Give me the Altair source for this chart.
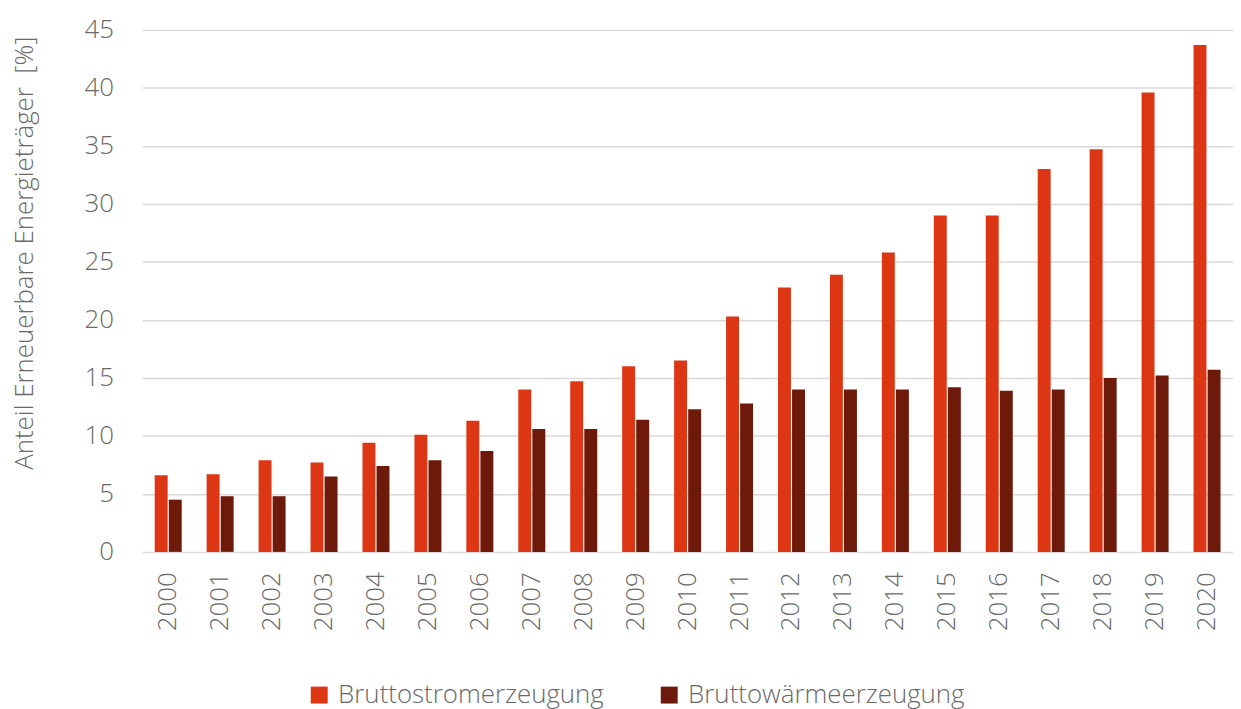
import altair as alt
import pandas as pd

years = [str(y) for y in range(2000, 2021)]
strom = [6.6, 6.7, 7.9, 7.7, 9.4, 10.1, 11.3, 14.0, 14.7, 16.0, 16.5, 20.3, 22.8, 23.9, 25.8, 29.0, 29.0, 33.0, 34.7, 39.6, 43.7]
waerme = [4.5, 4.8, 4.8, 6.5, 7.4, 7.9, 8.7, 10.6, 10.6, 11.4, 12.3, 12.8, 14.0, 14.0, 14.0, 14.2, 13.9, 14.0, 15.0, 15.2, 15.7]
series = ["Bruttostromerzeugung", "Bruttowärmeerzeugung"]
colors = ["#DC3614", "#6E1A0A"]

rows = []
for i, y in enumerate(years):
    rows.append({"Jahr": y, "Serie": series[0], "Wert": strom[i]})
    rows.append({"Jahr": y, "Serie": series[1], "Wert": waerme[i]})
df = pd.DataFrame(rows)

FONT = "Open Sans"
GRAY = "#6a6a6a"
FS = 26

chart = alt.Chart(df).mark_bar().encode(
    x=alt.X("Jahr:N", sort=years,
            scale=alt.Scale(paddingInner=0.48, paddingOuter=0.24),
            axis=alt.Axis(title=None, labelAngle=-90, labelFontSize=FS, labelColor=GRAY,
                          labelFont=FONT, labelFontWeight=300, ticks=False, domain=False,
                          labelPadding=20, labelBaseline="middle", labelAlign="right")),
    xOffset=alt.XOffset("Serie:N", sort=series, scale=alt.Scale(paddingInner=0.08)),
    y=alt.Y("Wert:Q", scale=alt.Scale(domain=[0, 45], nice=False),
            axis=alt.Axis(title="Anteil Erneuerbare Energieträger\u00a0\u00a0[%]", values=list(range(0, 50, 5)),
                          labelFontSize=FS, labelColor=GRAY, labelFont=FONT, labelFontWeight=300,
                          titleFontSize=FS, titleColor=GRAY, titleFont=FONT, titleFontWeight=300,
                          ticks=False, domain=False, labelPadding=29, titlePadding=47,
                          titleY=224,
                          gridColor="#d9d9d9", gridWidth=1.5)),
    color=alt.Color("Serie:N", sort=series, scale=alt.Scale(domain=series, range=colors),
                    legend=alt.Legend(title=None, orient="none", direction="horizontal",
                                      legendX=165, legendY=656,
                                      symbolType="square", symbolSize=290, symbolStrokeWidth=0,
                                      labelFontSize=FS, labelColor=GRAY, labelFont=FONT,
                                      labelFontWeight=300, columnPadding=52, labelLimit=600,
                                      labelOffset=6)),
).properties(
    width=1097, height=525,
    padding={"left": 3, "top": 7, "right": 0, "bottom": 0}
).configure_view(stroke=None).configure_axisX(grid=False)

chart.save("out.html", embed_options={"renderer": "svg", "actions": False})
